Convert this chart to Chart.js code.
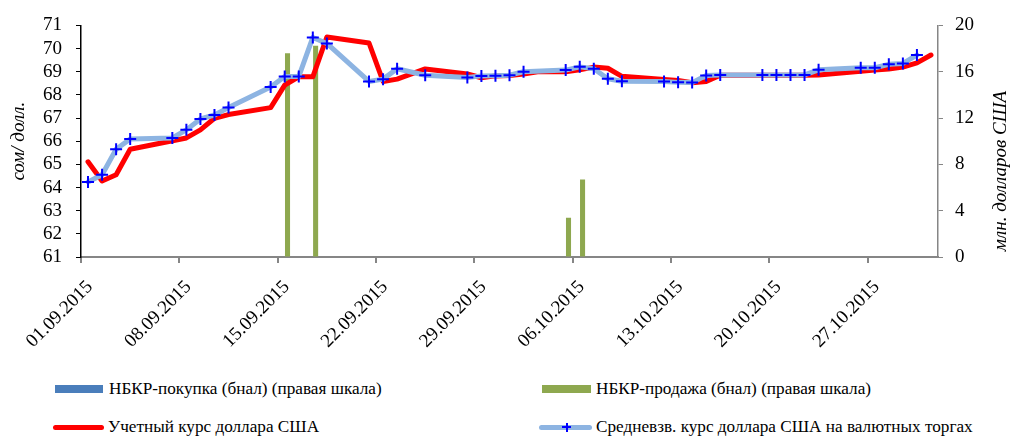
<!DOCTYPE html>
<html lang="ru">
<head>
  <meta charset="UTF-8" />
  <title>Курс доллара США</title>
  <script src="https://cdn.jsdelivr.net/npm/chart.js"></script>
  <style>
    body {
      margin: 0;
      background: #fff;
      font-family: "Liberation Serif", "Times New Roman", serif;
    }
    .wrap {
      position: relative;
      width: 1011px;
      height: 439px;
    }
    .chart-box {
      position: absolute;
      left: 0;
      top: 0;
      width: 1011px;
      height: 370px;
    }
    .leg {
      position: absolute;
      font-size: 17.2px;
      color: #000;
      white-space: nowrap;
      line-height: 20px;
    }
    .sw {
      position: absolute;
    }
  </style>
</head>
<body>

<div class="wrap">
  <div class="chart-box"><canvas id="rateChart"></canvas></div>

  <div class="sw" style="left:55px;top:385px;width:48px;height:8px;background:#4A7EBB"></div>
  <div class="leg" style="left:109px;top:379px">НБКР-покупка (бнал) (правая шкала)</div>

  <div class="sw" style="left:542px;top:385px;width:49px;height:8px;background:#8EA84F"></div>
  <div class="leg" style="left:596px;top:379px">НБКР-продажа (бнал) (правая шкала)</div>

  <div class="sw" style="left:53px;top:425px;width:51px;height:5px;background:#FF0000;border-radius:3px"></div>
  <div class="leg" style="left:108px;top:417px">Учетный курс доллара США</div>

  <div class="sw" style="left:539px;top:425px;width:53px;height:5px;background:#8DB4E2;border-radius:3px"></div>
  <div class="sw" style="left:562px;top:426px;width:9px;height:2px;background:#0000FF"></div>
  <div class="sw" style="left:565.5px;top:423px;width:2px;height:9px;background:#0000FF"></div>
  <div class="leg" style="left:596px;top:417px">Средневзв. курс доллара США на валютных торгах</div>
</div>

<script>
  const days = [
    '01.09.2015','02.09.2015','03.09.2015','04.09.2015','05.09.2015','06.09.2015','07.09.2015',
    '08.09.2015','09.09.2015','10.09.2015','11.09.2015','12.09.2015','13.09.2015','14.09.2015',
    '15.09.2015','16.09.2015','17.09.2015','18.09.2015','19.09.2015','20.09.2015','21.09.2015',
    '22.09.2015','23.09.2015','24.09.2015','25.09.2015','26.09.2015','27.09.2015','28.09.2015',
    '29.09.2015','30.09.2015','01.10.2015','02.10.2015','03.10.2015','04.10.2015','05.10.2015',
    '06.10.2015','07.10.2015','08.10.2015','09.10.2015','10.10.2015','11.10.2015','12.10.2015',
    '13.10.2015','14.10.2015','15.10.2015','16.10.2015','17.10.2015','18.10.2015','19.10.2015',
    '20.10.2015','21.10.2015','22.10.2015','23.10.2015','24.10.2015','25.10.2015','26.10.2015',
    '27.10.2015','28.10.2015','29.10.2015','30.10.2015','31.10.2015'
  ];
  const xTickLabels = ['01.09.2015','08.09.2015','15.09.2015','22.09.2015','29.09.2015',
    '06.10.2015','13.10.2015','20.10.2015','27.10.2015'];

  // учетный курс (красная линия)
  const officialRate = [
    65.11, 64.28, 64.55, 65.65, null, null, null,
    66.14, 66.49, 66.99, 67.15, null, null, 67.45,
    68.42, 68.78, 68.78, 70.50, null, null, 70.24,
    68.58, 68.68, null, 69.12, null, null, 68.90,
    68.74, 68.82, 68.84, 68.90, 69.00, null, 69.00,
    69.08, 69.20, 69.15, 68.80, null, null, 68.66,
    68.62, 68.52, 68.58, 68.85, null, null, 68.85,
    68.85, 68.85, 68.85, 68.86, null, null, 69.02,
    69.07, 69.12, 69.20, 69.38, 69.72
  ];
  // средневзвешенный курс на торгах
  const avgRate = [
    64.24, 64.55, 65.65, 66.10, null, null, 66.14,
    66.49, 66.96, 67.13, 67.45, null, null, 68.34,
    68.79, 68.79, 70.48, 70.22, null, null, 68.58,
    68.68, 69.13, null, 68.85, null, null, 68.75,
    68.82, 68.83, 68.85, 69.00, null, null, 69.07,
    69.21, 69.13, 68.70, 68.59, null, null, 68.58,
    68.54, 68.53, 68.84, 68.86, null, null, 68.86,
    68.86, 68.86, 68.86, 69.08, null, null, 69.17,
    69.17, 69.32, 69.36, 69.72, null
  ];
  // интервенции НБКР, млн. долларов
  const nbkrBuy = days.map(() => null);
  const nbkrSell = days.map(() => null);
  nbkrSell[14] = 17.6;
  nbkrSell[16] = 18.25;
  nbkrSell[34] = 3.4;
  nbkrSell[35] = 6.7;

  const serif = 'Liberation Serif';
  const H = 370;

  // правая подпись оси (снизу вверх, как в оригинале)
  const rightTitle = {
    id: 'rightTitle',
    afterDraw(chart) {
      const ctx = chart.ctx;
      ctx.save();
      ctx.translate(1001, 171);
      ctx.rotate(-Math.PI / 2);
      ctx.font = 'italic 19px ' + serif;
      ctx.fillStyle = '#000';
      ctx.textAlign = 'center';
      ctx.textBaseline = 'middle';
      ctx.fillText('млн. долларов США', 0, 0);
      ctx.restore();
    }
  };

  const ctx = document.getElementById('rateChart').getContext('2d');
  new Chart(ctx, {
    type: 'bar',
    data: {
      labels: days,
      datasets: [
        {
          type: 'line',
          label: 'Средневзв. курс доллара США на валютных торгах',
          data: avgRate,
          yAxisID: 'y',
          borderColor: '#8DB4E2',
          borderWidth: 5,
          borderJoinStyle: 'round',
          borderCapStyle: 'round',
          tension: 0,
          spanGaps: true,
          pointStyle: 'cross',
          pointRadius: 6,
          pointBorderWidth: 2,
          pointBorderColor: '#0000FF',
          pointBackgroundColor: '#0000FF',
          order: 0
        },
        {
          type: 'line',
          label: 'Учетный курс доллара США',
          data: officialRate,
          yAxisID: 'y',
          borderColor: '#FF0000',
          borderWidth: 5,
          borderJoinStyle: 'round',
          borderCapStyle: 'round',
          tension: 0,
          spanGaps: true,
          pointRadius: 0,
          order: 1
        },
        {
          label: 'НБКР-покупка (бнал) (правая шкала)',
          data: nbkrBuy,
          yAxisID: 'y1',
          backgroundColor: '#4A7EBB',
          categoryPercentage: 0.8,
          barPercentage: 0.9,
          order: 2
        },
        {
          label: 'НБКР-продажа (бнал) (правая шкала)',
          data: nbkrSell,
          yAxisID: 'y1',
          backgroundColor: '#8EA84F',
          categoryPercentage: 0.8,
          barPercentage: 0.9,
          order: 3
        }
      ]
    },
    options: {
      responsive: true,
      maintainAspectRatio: false,
      animation: false,
      layout: { padding: { top: 20, left: 0, right: 0, bottom: 0 } },
      plugins: {
        legend: { display: false },
        tooltip: { enabled: false }
      },
      scales: {
        x: {
          offset: true,
          afterFit: (s) => { s.height = H - 257; },
          grid: {
            offset: true,
            drawOnChartArea: false,
            tickLength: 6,
            color: (c) => (c.index !== undefined && c.index % 7 === 0) ? '#868686' : 'rgba(0,0,0,0)',
            lineWidth: 2
          },
          border: { display: true, color: '#868686', width: 2 },
          ticks: {
            autoSkip: false,
            minRotation: 45,
            maxRotation: 45,
            padding: 13,
            labelOffset: 2,
            color: '#000',
            font: { family: serif, size: 19 },
            callback: function (v, i) {
              const d = this.getLabelForValue(v);
              return xTickLabels.includes(d) ? d : '';
            }
          }
        },
        y: {
          position: 'left',
          min: 61,
          max: 71,
          afterFit: (s) => { s.width = 81; },
          grid: { drawOnChartArea: false, tickLength: 5, color: '#000' },
          border: { display: true, color: '#000', width: 1.5 },
          ticks: {
            stepSize: 1,
            autoSkip: false,
            padding: 14,
            color: '#000',
            font: { family: serif, size: 19 }
          },
          title: {
            display: true,
            text: 'сом/ долл.',
            color: '#000',
            font: { family: serif, size: 19, style: 'italic' },
            padding: { top: 8, bottom: 0 }
          }
        },
        y1: {
          position: 'right',
          min: 0,
          max: 20,
          afterFit: (s) => { s.width = 73; },
          grid: { drawOnChartArea: false, tickLength: 5, color: '#868686' },
          border: { display: true, color: '#868686', width: 1.5 },
          ticks: {
            stepSize: 4,
            autoSkip: false,
            padding: 12,
            color: '#000',
            font: { family: serif, size: 19 }
          }
        }
      }
    },
    plugins: [rightTitle]
  });
</script>

</body>
</html>
